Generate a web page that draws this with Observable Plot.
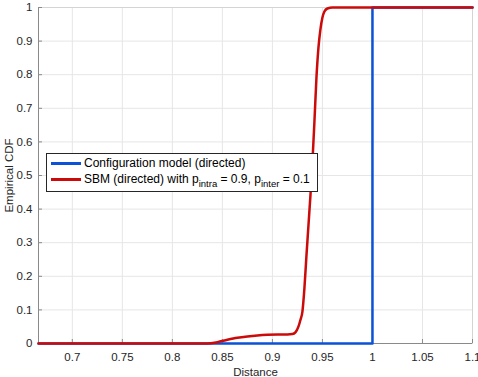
<!DOCTYPE html>
<html><head><meta charset="utf-8">
<script src="https://cdn.jsdelivr.net/npm/d3@7"></script>
<script src="https://cdn.jsdelivr.net/npm/@observablehq/plot@0.6"></script>
<style>
body{margin:0;background:#fff;}
#wrap{position:relative;width:478px;height:377px;font-family:"Liberation Sans",Arial,sans-serif;}
#legend{position:absolute;left:46px;top:153px;width:272px;height:39px;border:1px solid #262626;background:#fff;box-sizing:border-box;font-size:12px;color:#000;}
.row{position:absolute;left:0;height:14px;line-height:14px;white-space:nowrap;}
.sw{position:absolute;left:4px;top:6px;width:30px;height:2.5px;}
.lt{position:absolute;left:37px;top:0;}
.lt sub{font-size:9.5px;vertical-align:-4px;line-height:0;}
</style>
</head><body>
<div id="wrap"><div id="chart"></div>
<div id="legend"></div></div>
<script>
const seriesNames = ["Configuration model (directed)", "SBM (directed) with p<sub>intra</sub> = 0.9, p<sub>inter</sub> = 0.1"];
const seriesColors = ["#0a52d6", "#cc0a0a"];
const xDomain = [0.6662, 1.1];
const xTicks = [0.7, 0.75, 0.8, 0.85, 0.9, 0.95, 1, 1.05, 1.1];
const yTicks = [0, 0.1, 0.2, 0.3, 0.4, 0.5, 0.6, 0.7, 0.8, 0.9, 1];
const configX = [0.6662, 1.0, 1.0, 1.1];
const configY = [0, 0, 1, 1];
const sbmX = [0.6662, 0.835, 0.845, 0.855, 0.865, 0.875, 0.885, 0.895, 0.905, 0.915, 0.92, 0.923, 0.926, 0.928, 0.930, 0.932, 0.934, 0.936, 0.938, 0.940, 0.942, 0.944, 0.946, 0.948, 0.950, 0.952, 0.955, 0.96, 1.1];
const sbmY = [0, 0, 0.004, 0.011, 0.017, 0.021, 0.024, 0.026, 0.027, 0.027, 0.028, 0.033, 0.05, 0.07, 0.095, 0.165, 0.26, 0.35, 0.44, 0.54, 0.66, 0.79, 0.88, 0.935, 0.97, 0.988, 0.997, 1, 1];

const config = configX.map((x, i) => ({x, y: configY[i]}));
const sbm = sbmX.map((x, i) => ({x, y: sbmY[i]}));
const fmt = d => String(+d.toFixed(2));

const plot = Plot.plot({
  width: 478, height: 377,
  marginLeft: 38, marginRight: 6, marginTop: 7, marginBottom: 34,
  style: {fontFamily: '"Liberation Sans", Arial, sans-serif', fontSize: "11.5px", color: "#262626", background: "#fff"},
  x: {domain: xDomain},
  y: {domain: [0, 1]},
  marks: [
    Plot.gridX(xTicks, {stroke: "#e6e6e6", strokeOpacity: 1}),
    Plot.gridY(yTicks, {stroke: "#e6e6e6", strokeOpacity: 1}),
    Plot.frame({stroke: "#d4d4d4"}),
    Plot.ruleY([0], {stroke: "#8a8a8a"}),
    Plot.ruleX([xDomain[0]], {stroke: "#8a8a8a"}),
    Plot.axisX({ticks: xTicks, tickSize: -4, tickPadding: 13, tickFormat: fmt, stroke: "#8a8a8a", label: "Distance", labelAnchor: "center", labelArrow: "none", labelOffset: 32, fontSize: 11.5}),
    Plot.axisY({ticks: yTicks, tickSize: -4, tickPadding: 10, tickFormat: fmt, stroke: "#8a8a8a", label: "Empirical CDF", labelAnchor: "center", labelArrow: "none", labelOffset: 34, fontSize: 11.5}),
    Plot.line(config, {x: "x", y: "y", stroke: seriesColors[0], strokeWidth: 2.5}),
    Plot.line(sbm, {x: "x", y: "y", stroke: seriesColors[1], strokeWidth: 2.5, curve: "monotone-x"})
  ]
});
document.getElementById("chart").appendChild(plot);

const legend = document.getElementById("legend");
seriesNames.forEach((name, i) => {
  const row = document.createElement("div");
  row.className = "row";
  row.style.top = (2 + i * 16) + "px";
  row.innerHTML = `<div class="sw" style="background:${seriesColors[i]}"></div><span class="lt">${name}</span>`;
  legend.appendChild(row);
});
</script>
</body></html>
